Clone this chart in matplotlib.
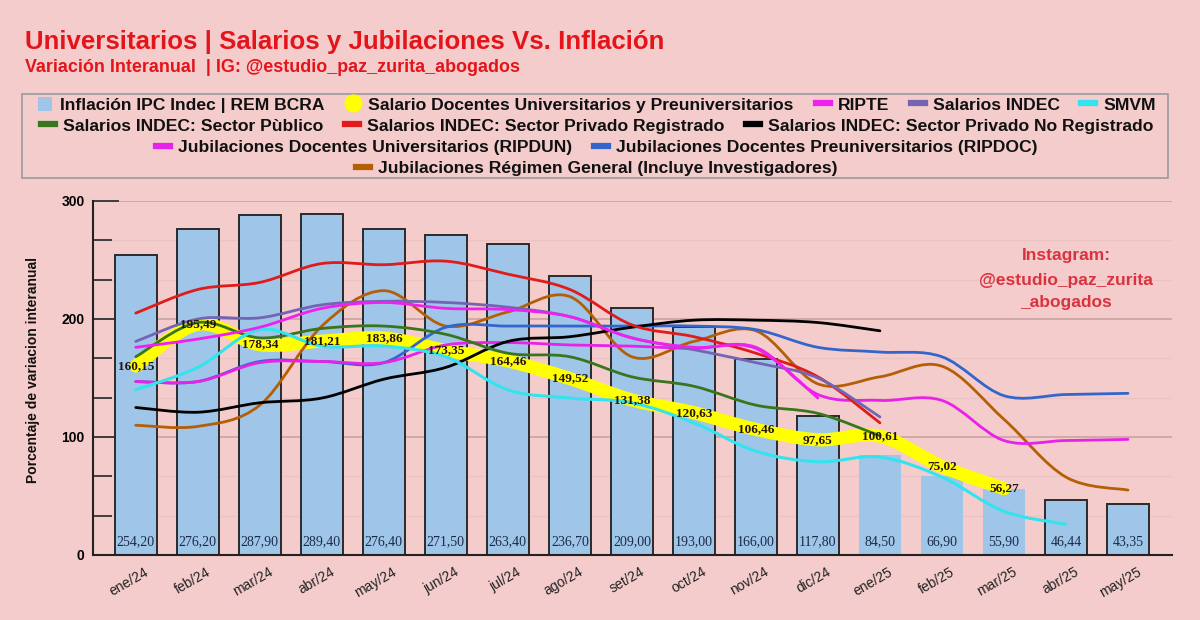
import matplotlib
matplotlib.use('Agg')
import matplotlib.pyplot as plt
import matplotlib.transforms as mtransforms
from matplotlib.path import Path
from matplotlib.patches import PathPatch, Patch, Rectangle
from matplotlib.lines import Line2D
from matplotlib.ticker import MultipleLocator
import numpy as np

plt.rcParams['font.family'] = ['Liberation Sans', 'DejaVu Sans']

# --- data ---
months = ['ene/24', 'feb/24', 'mar/24', 'abr/24', 'may/24', 'jun/24', 'jul/24', 'ago/24',
          'set/24', 'oct/24', 'nov/24', 'dic/24', 'ene/25', 'feb/25', 'mar/25', 'abr/25', 'may/25']
inflacion = [254.20, 276.20, 287.90, 289.40, 276.40, 271.50, 263.40, 236.70, 209.00,
             193.00, 166.00, 117.80, 84.50, 66.90, 55.90, 46.44, 43.35]
docentes = [160.15, 195.49, 178.34, 181.21, 183.86, 173.35, 164.46, 149.52, 131.38,
            120.63, 106.46, 97.65, 100.61, 75.02, 56.27]
ripte = [176, 183, 193, 209, 214, 209, 208, 202, 184, 176, 175, 133]
salarios_indec = [181, 200, 201, 212, 215, 214, 210, 202, 184, 174, 163, 150, 117]
smvm = [140, 159, 191, 177, 177, 168, 140, 133, 129, 112, 88, 79, 83, 66, 37, 26]
sector_publico = [168, 197, 184, 192, 194, 187, 171, 168, 151, 143, 127, 120, 101]
privado_reg = [205, 225, 231, 247, 246, 249, 238, 225, 195, 185, 171, 151, 112]
privado_no_reg = [125, 121, 129, 133, 149, 159, 181, 185, 193, 199, 199, 197, 190]
ripdun = [147, 147, 163, 164, 163, 178, 180, 178, 177, 175, 176, 136, 131, 131, 97, 97, 98]
ripdoc = [147, 147, 164, 164, 163, 193, 194, 194, 194, 194, 191, 176, 172, 168, 135, 136, 137]
regimen_general = [110, 109, 127, 194, 224, 194, 206, 219, 168, 181, 190, 145, 151, 160, 115, 66, 55]

bg = '#f4cccc'
red = '#e4141b'


def smooth_path(xs, ys):
    # catmull-rom like bezier through the points, drawn by matplotlib as CURVE4
    pts = np.column_stack([xs, ys]).astype(float)
    n = len(pts)
    verts = [pts[0]]
    codes = [Path.MOVETO]
    for i in range(n - 1):
        p0 = pts[i - 1] if i > 0 else pts[i]
        p1 = pts[i]
        p2 = pts[i + 1]
        p3 = pts[i + 2] if i + 2 < n else pts[i + 1]
        c1 = p1 + (p2 - p0) / 6.0
        c2 = p2 - (p3 - p1) / 6.0
        verts += [c1, c2, p2]
        codes += [Path.CURVE4] * 3
    return Path(verts, codes)


def draw_line(ax, vals, color, lw, z):
    xs = np.arange(len(vals))
    patch = PathPatch(smooth_path(xs, vals), facecolor='none', edgecolor=color,
                      lw=lw, zorder=z, capstyle='round', joinstyle='round')
    ax.add_patch(patch)


fig = plt.figure(figsize=(12, 6.2), dpi=100, facecolor=bg)
ax = fig.add_axes([93 / 1200, 1 - 555 / 620, (1172 - 93) / 1200, (555 - 201) / 620])
ax.set_facecolor(bg)

x = np.arange(len(months))
edges = ['#2a2a2a'] * len(months)
for i in (12, 13, 14):
    edges[i] = 'none'
ax.bar(x, inflacion, width=0.68, color='#9fc5e8', edgecolor=edges, linewidth=1.4, zorder=2)
for i, v in enumerate(inflacion):
    ax.text(i, 11, f'{v:.2f}'.replace('.', ','), ha='center', va='center',
            family=['Liberation Serif'], fontsize=10, color='#1c2a48', zorder=6)

draw_line(ax, docentes, '#ffff00', 9.5, 3)
draw_line(ax, regimen_general, '#b45f06', 2.0, 4)
draw_line(ax, ripdoc, '#3366cc', 2.0, 4)
draw_line(ax, ripdun, '#e822e8', 2.0, 4)
draw_line(ax, privado_no_reg, '#000000', 2.0, 4)
draw_line(ax, privado_reg, '#e01b1b', 2.0, 4)
draw_line(ax, sector_publico, '#38761d', 2.0, 4)
draw_line(ax, smvm, '#33e3ee', 2.2, 4)
draw_line(ax, salarios_indec, '#7464b4', 2.0, 4)
draw_line(ax, ripte, '#f020f0', 2.0, 4)

for i, v in enumerate(docentes):
    ax.text(i, v, f'{v:.2f}'.replace('.', ','), ha='center', va='center',
            family=['Liberation Serif'], fontsize=9.5, fontweight='bold',
            color='#241214', zorder=7)

ax.set_xlim(-0.69, 16.71)
ax.set_ylim(0, 300)
for s in ('top', 'right'):
    ax.spines[s].set_visible(False)
ax.spines['left'].set_color('#222222')
ax.spines['left'].set_linewidth(1.5)
ax.spines['bottom'].set_color('#222222')
ax.spines['bottom'].set_linewidth(1.5)

ax.yaxis.set_major_locator(MultipleLocator(100))
ax.yaxis.set_minor_locator(MultipleLocator(100 / 3))
ax.tick_params(axis='y', which='major', direction='in', length=19, width=1.3,
               color='#333333', labelsize=10, pad=6)
ax.tick_params(axis='y', which='minor', direction='in', length=14, width=1.3, color='#333333')
for lab in ax.get_yticklabels():
    lab.set_fontweight('bold')
ax.grid(axis='y', which='major', color='#c9a3a3', lw=1.2, zorder=1)
ax.grid(axis='y', which='minor', color='#ebc3c3', lw=1.0, zorder=1)
ax.set_axisbelow(True)

ax.set_xticks(x)
ax.set_xticklabels(months, rotation=30, ha='right', rotation_mode='anchor',
                   fontsize=10, color='#222222')
ax.tick_params(axis='x', length=0, pad=7)
offset = mtransforms.ScaledTranslation(6 / 72, 0, fig.dpi_scale_trans)
for lab in ax.get_xticklabels():
    lab.set_transform(lab.get_transform() + offset)

fig.text(33 / 1200, 1 - 370 / 620, 'Porcentaje de variacion interanual', rotation=90,
         ha='center', va='center', fontsize=10, fontweight='bold', color='#111111')

# titles
fig.text(25 / 1200, 1 - 42 / 620, 'Universitarios | Salarios y Jubilaciones Vs. Inflación',
         fontsize=18.6, fontweight='bold', color=red, va='center')
fig.text(25 / 1200, 1 - 67 / 620, 'Variación Interanual  | IG: @estudio_paz_zurita_abogados',
         fontsize=12.9, fontweight='bold', color=red, va='center')

# instagram note
for txt, yy in (('Instagram:', 256), ('@estudio_paz_zurita', 280), ('_abogados', 302)):
    fig.text(1066 / 1200, 1 - yy / 620, txt, ha='center', va='center', fontsize=12.5,
             fontweight='bold', color='#d9333f')

# legend box and rows
fig.patches.append(Rectangle((22 / 1200, 1 - 178 / 620), (1168 - 22) / 1200, 84 / 620,
                             transform=fig.transFigure, facecolor='none',
                             edgecolor='#9a9a9a', lw=1.2))


def lh(c):
    return Line2D([], [], color=c, lw=4.5)


rows = [
    ([Patch(facecolor='#9fc5e8', edgecolor='none'),
      Line2D([], [], marker='o', ls='none', color='#ffff00', markersize=12),
      lh('#f020f0'), lh('#7464b4'), lh('#33e3ee')],
     ['Inflación IPC Indec | REM BCRA', 'Salario Docentes Universitarios y Preuniversitarios',
      'RIPTE', 'Salarios INDEC', 'SMVM'], 105),
    ([lh('#38761d'), lh('#e01b1b'), lh('#000000')],
     ['Salarios INDEC: Sector Pùblico', 'Salarios INDEC: Sector Privado Registrado',
      'Salarios INDEC: Sector Privado No Registrado'], 126),
    ([lh('#e822e8'), lh('#3366cc')],
     ['Jubilaciones Docentes Universitarios (RIPDUN)',
      'Jubilaciones Docentes Preuniversitarios (RIPDOC)'], 147),
    ([lh('#b45f06')], ['Jubilaciones Régimen General (Incluye Investigadores)'], 168),
]
for handles, labels, yy in rows:
    leg = fig.legend(handles, labels, loc='center', bbox_to_anchor=(597 / 1200, 1 - yy / 620),
                     ncol=len(labels), frameon=False, handlelength=0.8, handleheight=0.8,
                     handletextpad=0.45, columnspacing=1.25, borderpad=0,
                     prop={'weight': 'bold', 'size': 12.6})
    for t in leg.get_texts():
        t.set_color('#111111')

fig.savefig('out.png', dpi=100, facecolor=bg)
